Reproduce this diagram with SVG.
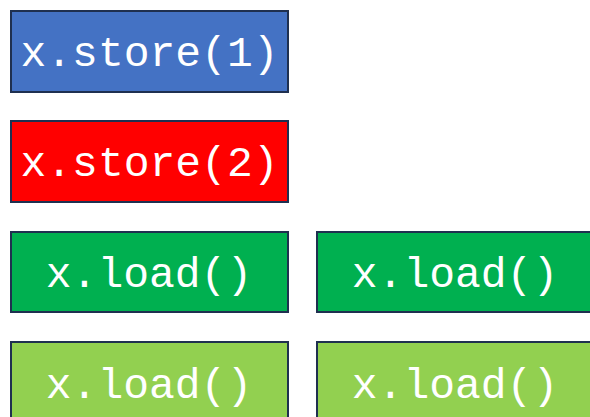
<svg xmlns="http://www.w3.org/2000/svg" width="590" height="417" viewBox="0 0 590 417">
  <style>
    .box { stroke: #1F3050; stroke-width: 2; }
    .lbl { font-family: "Liberation Mono", "DejaVu Sans Mono", monospace; font-size: 43px; fill: #ffffff; text-anchor: middle; }
  </style>
  <rect width="590" height="417" fill="#ffffff"/>
  <g id="store1">
    <rect class="box" x="11" y="11" width="277" height="81" fill="#4472C4"/>
    <text class="lbl" x="149.5" y="66">x.store(1)</text>
  </g>
  <g id="store2">
    <rect class="box" x="11" y="121" width="277" height="81" fill="#FF0000"/>
    <text class="lbl" x="149.5" y="176">x.store(2)</text>
  </g>
  <g id="load-a1">
    <rect class="box" x="11" y="232" width="277" height="80" fill="#00B050"/>
    <text class="lbl" x="149" y="287">x.load()</text>
  </g>
  <g id="load-a2">
    <rect class="box" x="317" y="232" width="277" height="80" fill="#00B050"/>
    <text class="lbl" x="455" y="287">x.load()</text>
  </g>
  <g id="load-b1">
    <rect class="box" x="11" y="342" width="277" height="82" fill="#92D050"/>
    <text class="lbl" x="149" y="398">x.load()</text>
  </g>
  <g id="load-b2">
    <rect class="box" x="317" y="342" width="277" height="82" fill="#92D050"/>
    <text class="lbl" x="455" y="398">x.load()</text>
  </g>
  <g id="connectors"></g>
</svg>
